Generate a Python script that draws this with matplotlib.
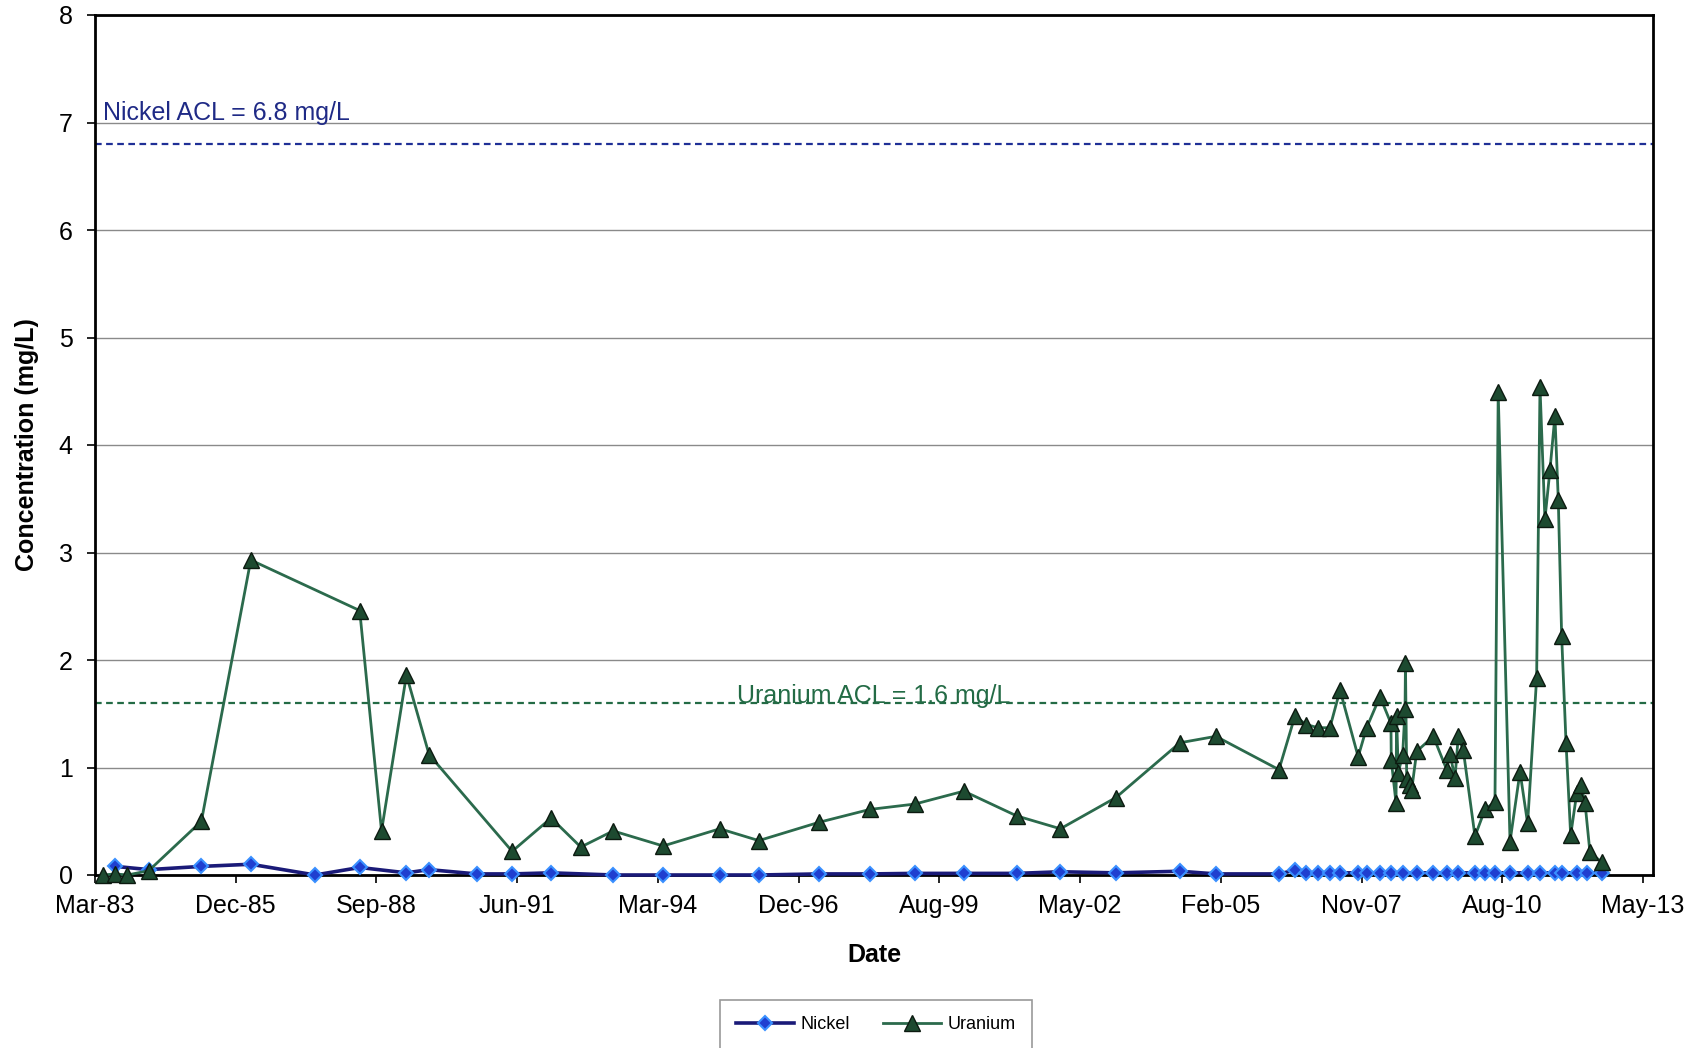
import numpy as np
import pandas as pd
import matplotlib
matplotlib.use("Agg")
import matplotlib.pyplot as plt
import matplotlib.dates as mdates

plt.rcParams['font.family'] = ['Liberation Sans', 'DejaVu Sans']

# sampling dates and concentrations (mg/L)
uranium_dates = [
    '1983-05-21', '1983-08-17', '1983-11-10', '1984-04-10', '1985-04-19',
    '1986-04-05', '1988-05-18', '1988-10-20', '1989-04-15', '1989-09-23',
    '1991-05-06', '1992-02-07', '1992-09-05', '1993-04-23', '1994-04-13',
    '1995-05-21', '1996-02-22', '1997-04-24', '1998-04-21', '1999-03-07',
    '2000-02-18', '2001-02-27', '2002-01-04', '2003-02-02', '2004-05-02',
    '2005-01-13', '2006-04-06', '2006-07-29', '2006-10-15', '2007-01-10',
    '2007-04-03', '2007-06-14', '2007-10-21', '2007-12-20', '2008-03-24',
    '2008-06-10', '2008-06-12', '2008-07-16', '2008-07-20', '2008-08-01',
    '2008-09-01', '2008-09-18', '2008-09-21', '2008-09-30', '2008-10-23',
    '2008-11-04', '2008-12-10', '2009-04-07', '2009-07-11', '2009-08-03',
    '2009-09-08', '2009-10-01', '2009-11-06', '2010-01-28', '2010-04-09',
    '2010-06-19', '2010-07-12', '2010-10-04', '2010-12-14', '2011-02-06',
    '2011-04-11', '2011-05-05', '2011-06-09', '2011-07-15', '2011-08-19',
    '2011-09-12', '2011-10-06', '2011-11-06', '2011-12-09', '2012-01-21',
    '2012-02-18', '2012-03-20', '2012-04-24', '2012-07-16',
]
uranium_mgL = [
    0.00, 0.01, 0.00, 0.04, 0.50,
    2.93, 2.46, 0.41, 1.86, 1.12,
    0.22, 0.53, 0.26, 0.41, 0.27,
    0.43, 0.32, 0.49, 0.61, 0.66,
    0.78, 0.55, 0.43, 0.72, 1.23,
    1.29, 0.98, 1.48, 1.40, 1.37,
    1.37, 1.72, 1.10, 1.37, 1.66,
    1.41, 1.07, 0.67, 1.48, 0.95,
    1.12, 1.54, 1.97, 0.89, 0.84,
    0.79, 1.15, 1.29, 0.98, 1.13,
    0.90, 1.29, 1.16, 0.36, 0.61,
    0.68, 4.49, 0.31, 0.96, 0.48,
    1.83, 4.54, 3.31, 3.77, 4.27,
    3.49, 2.22, 1.23, 0.37, 0.76,
    0.84, 0.67, 0.21, 0.12,
]

nickel_dates = [
    '1983-08-17', '1984-04-10', '1985-04-19', '1986-04-05', '1987-07-06',
    '1988-05-18', '1989-04-15', '1989-09-23', '1990-08-26', '1991-05-06',
    '1992-02-07', '1993-04-23', '1994-04-13', '1995-05-21', '1996-02-22',
    '1997-04-24', '1998-04-21', '1999-03-07', '2000-02-18', '2001-02-27',
    '2002-01-04', '2003-02-02', '2004-05-02', '2005-01-13', '2006-04-06',
    '2006-07-29', '2006-10-15', '2007-01-10', '2007-04-03', '2007-06-14',
    '2007-10-21', '2007-12-20', '2008-03-24', '2008-06-10', '2008-09-01',
    '2008-12-10', '2009-04-07', '2009-07-11', '2009-10-01', '2010-01-28',
    '2010-04-09', '2010-06-19', '2010-10-04', '2011-02-06', '2011-05-05',
    '2011-08-19', '2011-10-06', '2012-01-21', '2012-04-05', '2012-07-16',
]
nickel_mgL = [
    0.08, 0.05, 0.08, 0.10, 0.00,
    0.07, 0.02, 0.05, 0.01, 0.01,
    0.02, 0.00, 0.00, 0.00, 0.00,
    0.01, 0.01, 0.015, 0.015, 0.015,
    0.03, 0.02, 0.035, 0.01, 0.01,
    0.045, 0.02, 0.02, 0.02, 0.02,
    0.02, 0.02, 0.02, 0.02, 0.02,
    0.02, 0.02, 0.02, 0.02, 0.02,
    0.02, 0.02, 0.02, 0.02, 0.02,
    0.02, 0.02, 0.02, 0.02, 0.02,
]

nickel_acl = 6.8
uranium_acl = 1.6

u_dates = pd.to_datetime(uranium_dates)
n_dates = pd.to_datetime(nickel_dates)

fig = plt.figure(figsize=(16.95, 10.48), dpi=100)
ax = fig.add_axes([95 / 1695, 1 - 875 / 1048, (1653 - 95) / 1695, (875 - 15) / 1048])

ax.plot(n_dates, nickel_mgL, color='#1a1a78', lw=2.6, marker='D', ms=7.5,
        mfc='#1f3fd0', mec='#3a90ff', mew=1.5, label='Nickel', clip_on=False, zorder=3)
ax.plot(u_dates, uranium_mgL, color='#2b6a4c', lw=2.0, marker='^', ms=11.5,
        mfc='#1d4a30', mec='#0c1a10', mew=1.0, label='Uranium', clip_on=False, zorder=4)

# action concentration limits
ax.axhline(nickel_acl, color='#1f2f96', lw=1.6, ls=(0, (3, 2)), zorder=2)
ax.axhline(uranium_acl, color='#236b45', lw=1.6, ls=(0, (3, 2)), zorder=2)

# axis: Excel-style date ticks every 1000 days from Mar-83
start = pd.Timestamp('1983-03-25')
ticks = [start + pd.Timedelta(days=int(d)) for d in range(0, 11001, 1000)]
ax.set_xticks(ticks)
ax.xaxis.set_major_formatter(mdates.DateFormatter('%b-%y'))
ax.set_xlim(start, start + pd.Timedelta(days=11071))
ax.set_ylim(0, 8)
ax.set_yticks(range(0, 9))

ax.text(0.005, 7.02, 'Nickel ACL = 6.8 mg/L', color='#1f2a86', fontsize=18,
        transform=ax.get_yaxis_transform(), va='baseline', ha='left')
ax.text(0.5, uranium_acl, 'Uranium ACL = 1.6 mg/L', color='#236b45', fontsize=18,
        transform=ax.get_yaxis_transform(), va='baseline', ha='center')

ax.grid(axis='y', color='#8a8a8a', lw=1.0)
ax.set_axisbelow(True)
for s in ax.spines.values():
    s.set_linewidth(2.0)
    s.set_color('black')

ax.tick_params(axis='both', labelsize=18, length=6, width=1.2, direction='out', colors='black')
ax.tick_params(axis='x', pad=8)
ax.tick_params(axis='y', pad=10)

ax.set_ylabel('Concentration (mg/L)', fontsize=18, fontweight='bold', labelpad=14)
ax.set_xlabel('Date', fontsize=18, fontweight='bold', labelpad=18)

leg = fig.legend(loc='upper center', bbox_to_anchor=(876 / 1695, 1 - 1000 / 1048),
                 ncol=2, fontsize=13, frameon=True, fancybox=False,
                 handlelength=3.2, handletextpad=0.4, columnspacing=1.8,
                 borderpad=0.9, borderaxespad=0, edgecolor='#808080')
leg.get_frame().set_linewidth(1.2)

fig.savefig('out.png', dpi=100)
